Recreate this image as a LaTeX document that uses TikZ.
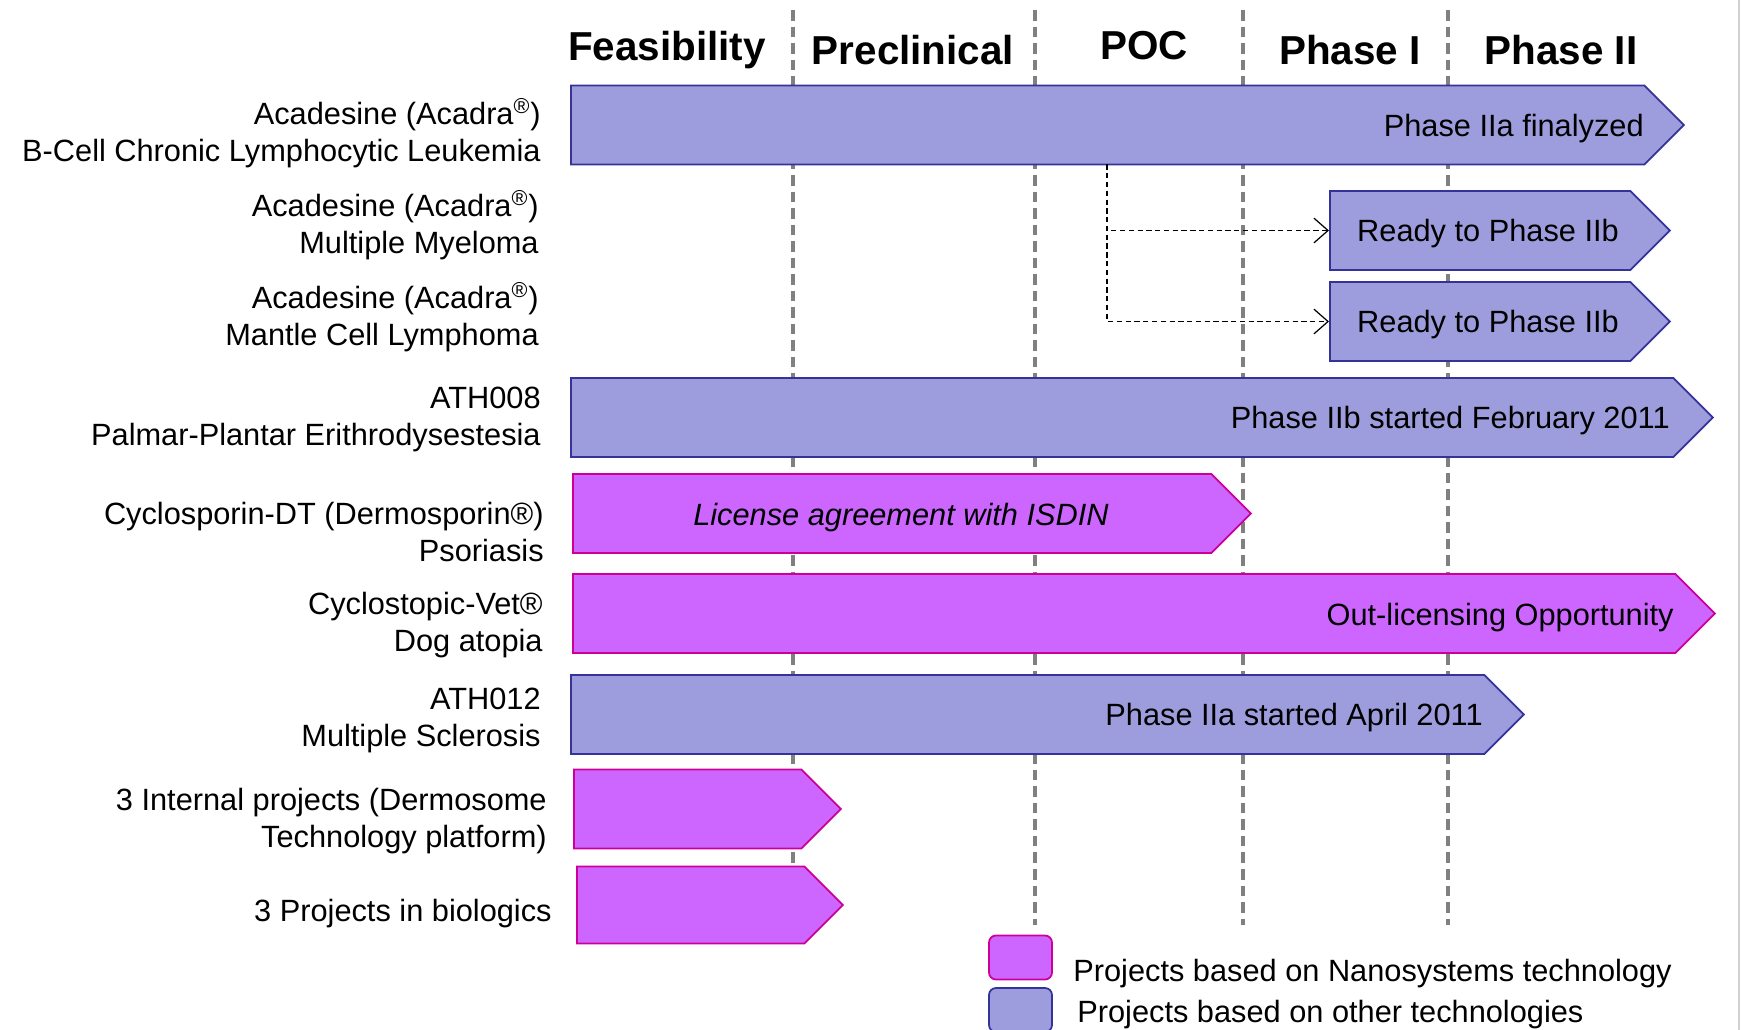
\documentclass[tikz,border=0pt]{standalone}
\usepackage{fontspec}
\setmainfont{Liberation Sans}
\usetikzlibrary{shapes.symbols,arrows.meta}

\definecolor{otherfill}{HTML}{9D9DDD}
\definecolor{otherline}{HTML}{333399}
\definecolor{nanofill}{HTML}{CC66FF}
\definecolor{nanoline}{HTML}{CC0099}

\begin{document}
\begin{tikzpicture}[scale=0.2]
\tikzstyle{every node}+=[inner sep=0pt, font=\fontsize{17.5}{21}\selectfont]
\tikzstyle{stagehead}=[font=\fontsize{23}{27}\selectfont\bfseries]
\tikzstyle{gateline}=[draw=gray, line width=2pt, dash pattern=on 6pt off 3.4pt]
\tikzstyle{barbase}=[signal, signal to=east, signal pointer angle=90, line width=1pt, anchor=west, minimum height=1.58cm]
\tikzstyle{otherbar}=[barbase, draw=otherline, fill=otherfill]
\tikzstyle{nanobar}=[barbase, draw=nanoline, fill=nanofill]
\tikzstyle{druglabel}=[align=right, anchor=east]
\tikzstyle{linkline}=[black, line width=0.7pt, dash pattern=on 3pt off 2pt, -{Straight Barb[length=8pt,width=14pt]}]
\tikzstyle{keybox}=[rounded corners=4pt, line width=1pt, minimum width=1.26cm, minimum height=0.88cm]
\useasboundingbox (0,0) rectangle (174.2,-103);
\draw [gray!35, line width=1pt] (173.9,0) -- (173.9,-103);
\draw [gateline] (79.3,-1) -- (79.3,-92.5);
\draw [gateline] (103.5,-1) -- (103.5,-92.5);
\draw [gateline] (124.3,-1) -- (124.3,-92.5);
\draw [gateline] (144.8,-1) -- (144.8,-92.5);
\node [stagehead] (feas) at (66.7,-5.0) {Feasibility};
\node [stagehead] (precl) at (91.3,-5.0) {Preclinical};
\node [stagehead] (poc) at (114.4,-4.6) {POC};
\node [stagehead] (ph1) at (135.0,-5.0) {Phase I};
\node [stagehead] (ph2) at (156.1,-5.0) {Phase II};
\node [otherbar, minimum width=22.26cm] (acl) at (57.0,-12.5) {};
\node [anchor=east] (tacl) at (164.4,-12.85) {Phase IIa finalyzed};
\node [otherbar, minimum width=6.8cm] (amm) at (132.9,-23.05) {};
\node (tamm) at (148.8,-23.35) {Ready to Phase IIb};
\node [otherbar, minimum width=6.8cm] (amcl) at (132.9,-32.15) {};
\node (tamcl) at (148.8,-32.45) {Ready to Phase IIb};
\node [otherbar, minimum width=22.84cm] (ath8) at (57.0,-41.75) {};
\node [anchor=east] (tath8) at (167.0,-42.1) {Phase IIb started February 2011};
\node [nanobar, minimum width=13.56cm] (cdt) at (57.2,-51.35) {};
\node (tcdt) at (90.1,-51.75) {\itshape License agreement with ISDIN};
\node [nanobar, minimum width=22.84cm] (cvet) at (57.2,-61.35) {};
\node [anchor=east] (tcvet) at (167.4,-61.75) {Out-licensing Opportunity};
\node [otherbar, minimum width=19.06cm] (ath12) at (57.0,-71.45) {};
\node [anchor=east] (tath12) at (148.3,-71.75) {Phase IIa started April 2011};
\node [nanobar, minimum width=5.34cm] (intp) at (57.3,-80.9) {};
\node [nanobar, minimum width=5.32cm, minimum height=1.54cm] (biop) at (57.6,-90.5) {};
\coordinate (split) at (110.7,-16.44);
\draw [linkline] (split) |- (amm.west);
\draw [linkline] (split) |- (amcl.west);
\node [druglabel] (lacl) at (54.1,-13.35) {Acadesine (Acadra\textsuperscript{®})\\B-Cell Chronic Lymphocytic Leukemia};
\node [druglabel] (lamm) at (53.9,-22.55) {Acadesine (Acadra\textsuperscript{®})\\Multiple Myeloma};
\node [druglabel] (lamcl) at (53.9,-31.75) {Acadesine (Acadra\textsuperscript{®})\\Mantle Cell Lymphoma};
\node [druglabel] (lath8) at (54.1,-41.9) {ATH008\\Palmar-Plantar Erithrodysestesia};
\node [druglabel] (lcdt) at (54.4,-53.2) {Cyclosporin-DT (Dermosporin®)\\Psoriasis};
\node [druglabel] (lcvet) at (54.3,-62.5) {Cyclostopic-Vet®\\Dog atopia};
\node [druglabel] (lath12) at (54.1,-72.0) {ATH012\\Multiple Sclerosis};
\node [druglabel] (lintp) at (54.7,-82.1) {3 Internal projects (Dermosome\\Technology platform)};
\node [druglabel] (lbiop) at (55.2,-91.4) {3 Projects in biologics};
\node [keybox, draw=nanoline, fill=nanofill] (knano) at (102.05,-95.75) {};
\node [keybox, draw=otherline, fill=otherfill] (kother) at (102.05,-101.0) {};
\node [anchor=west] (tknano) at (107.3,-97.4) {Projects based on Nanosystems technology};
\node [anchor=west] (tkother) at (107.7,-101.5) {Projects based on other technologies};
\end{tikzpicture}
\end{document}
